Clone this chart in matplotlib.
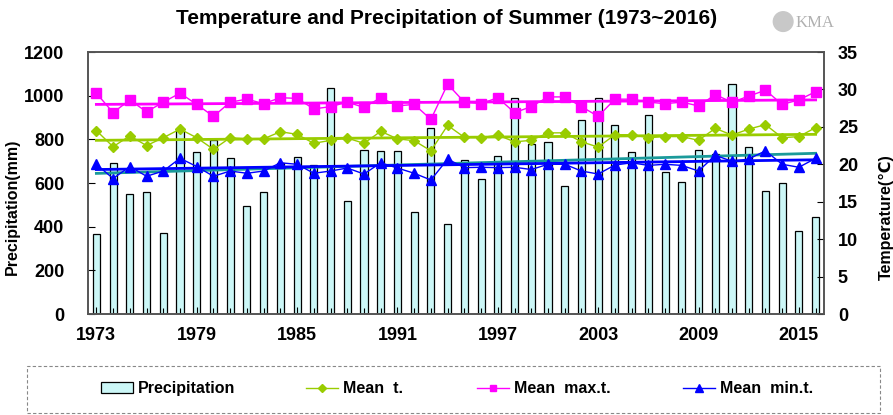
import matplotlib
matplotlib.use("Agg")
import matplotlib.pyplot as plt
import numpy as np
from matplotlib.patches import Rectangle, Ellipse
from matplotlib.ticker import MultipleLocator

# summer values 1973-2016
years = list(range(1973, 2017))
precip = [366, 690, 550, 560, 372, 843, 744, 797, 713, 495, 560, 690,
          718, 684, 1034, 518, 751, 745, 745, 467, 850, 412, 707, 617,
          724, 988, 779, 789, 586, 889, 989, 867, 744, 912, 650, 605,
          751, 735, 1052, 766, 565, 599, 382, 443]
mean_t = [24.5, 22.35, 23.8, 22.5, 23.55, 24.7, 23.55, 22.0, 23.55, 23.4, 23.4, 24.35,
          24.0, 22.8, 23.2, 23.5, 22.8, 24.4, 23.4, 23.15, 21.8, 25.2, 23.6, 23.55,
          23.9, 23.0, 23.2, 24.2, 24.2, 23.0, 22.3, 23.95, 23.95, 23.55, 23.7, 23.7,
          23.2, 24.8, 23.9, 24.7, 25.3, 23.55, 23.7, 24.9]
mean_max = [29.5, 26.9, 28.6, 27.0, 28.3, 29.5, 28.0, 26.4, 28.3, 28.7, 28.1, 28.9,
            28.8, 27.4, 27.7, 28.3, 27.6, 28.9, 27.8, 28.0, 26.0, 30.7, 28.3, 28.1,
            28.9, 26.9, 27.7, 29.0, 29.0, 27.7, 26.4, 28.7, 28.7, 28.3, 28.1, 28.3,
            27.8, 29.3, 28.3, 29.1, 29.9, 28.0, 28.6, 29.7]
mean_min = [20.0, 18.1, 19.7, 18.4, 19.1, 20.8, 19.7, 18.4, 19.1, 18.8, 19.1, 20.2,
            20.0, 18.8, 19.1, 19.5, 18.7, 20.2, 19.5, 18.8, 17.9, 20.7, 19.55, 19.6,
            19.55, 19.6, 19.3, 20.0, 20.0, 19.1, 18.7, 19.9, 20.2, 19.85, 20.0, 19.85,
            19.1, 21.2, 20.4, 20.7, 21.8, 20.0, 19.6, 20.8]

# trend lines (start, end) as drawn on the chart
trend_years = [1973, 2016]
precip_trend = [644, 736]
mean_t_trend = [23.2, 24.0]
mean_max_trend = [28.0, 28.6]
mean_min_trend = [19.3, 20.6]

xtick_years = list(range(1973, 2017, 6))

plt.rcParams["font.family"] = ["Liberation Sans", "DejaVu Sans"]

fig = plt.figure(figsize=(8.93, 4.15), dpi=100)
ax = fig.add_axes([88 / 893, 101 / 415, 736 / 893, 262 / 415])
ax2 = ax.twinx()

ax.bar(years, precip, width=0.42, color="#ccf7f7", edgecolor="black", linewidth=0.9,
       label="Precipitation")
ax.plot(trend_years, precip_trend, color="#1a9a9a", lw=2)

c_t, c_max, c_min = "#99cc00", "#ff00ff", "#0000ff"
ax2.plot(years, mean_t, color=c_t, lw=1, marker="D", ms=5.5, label="Mean  t.")
ax2.plot(years, mean_max, color=c_max, lw=1, marker="s", ms=7, label="Mean  max.t.")
ax2.plot(years, mean_min, color=c_min, lw=1, marker="^", ms=7.5, label="Mean  min.t.")
ax2.plot(trend_years, mean_t_trend, color=c_t, lw=2)
ax2.plot(trend_years, mean_max_trend, color=c_max, lw=2)
ax2.plot(trend_years, mean_min_trend, color=c_min, lw=2)

ax.set_xlim(1972.5, 2016.5)
ax.set_ylim(0, 1200)
ax2.set_ylim(0, 35)
ax.set_xticks(xtick_years)
ax.xaxis.set_minor_locator(MultipleLocator(1))
ax.yaxis.set_major_locator(MultipleLocator(200))
ax2.yaxis.set_major_locator(MultipleLocator(5))

for a in (ax, ax2):
    a.tick_params(which="both", direction="in", labelsize=13, width=0.8)
    a.tick_params(which="major", length=5)
    a.tick_params(which="minor", length=4)
    for lab in a.get_xticklabels() + a.get_yticklabels():
        lab.set_fontweight("bold")
    for s in a.spines.values():
        s.set_color("#555555")
        s.set_linewidth(1.2)
ax.tick_params(axis="x", pad=9)
ax.tick_params(axis="y", pad=17)
ax2.tick_params(axis="y", pad=10)

ax.set_ylabel("Precipitation(mm)", fontsize=11.5, fontweight="bold")
ax.yaxis.set_label_coords(-0.093, 0.41)
ax2.set_ylabel("Temperature(℃)", fontsize=11.5, fontweight="bold")
ax2.yaxis.set_label_coords(1.075, 0.37)

fig.text(0.5, 0.955, "Temperature and Precipitation of Summer (1973~2016)",
         ha="center", va="center", fontsize=15, fontweight="bold")
fig.text(0.913, 0.945, "KMA", ha="center", va="center", fontsize=12,
         family="Liberation Serif", color="#b0b0b0")
fig.patches.append(Ellipse((0.877, 0.948), 0.022, 0.022 * 893 / 415,
                           transform=fig.transFigure, color="#c8c8c8"))

# legend in a dashed box under the plot
fig.patches.append(Rectangle((27 / 893, 2 / 415), 853 / 893, 47 / 415,
                             transform=fig.transFigure, fill=False,
                             edgecolor="#888888", linestyle=(0, (3, 2)), lw=0.8))
h1, l1 = ax.get_legend_handles_labels()
h2, l2 = ax2.get_legend_handles_labels()
handles = h1 + h2
labels = l1 + l2
legend_x = [101, 306, 477, 683]
for h, l, x in zip(handles, labels, legend_x):
    leg = fig.legend([h], [l], loc="center left", bbox_to_anchor=(x / 893, 0.063),
                     frameon=False, borderpad=0, borderaxespad=0, handlelength=2.0,
                     handletextpad=0.3, markerscale=0.7,
                     prop={"weight": "bold", "size": 11.5})

fig.savefig("out.png", dpi=100)
